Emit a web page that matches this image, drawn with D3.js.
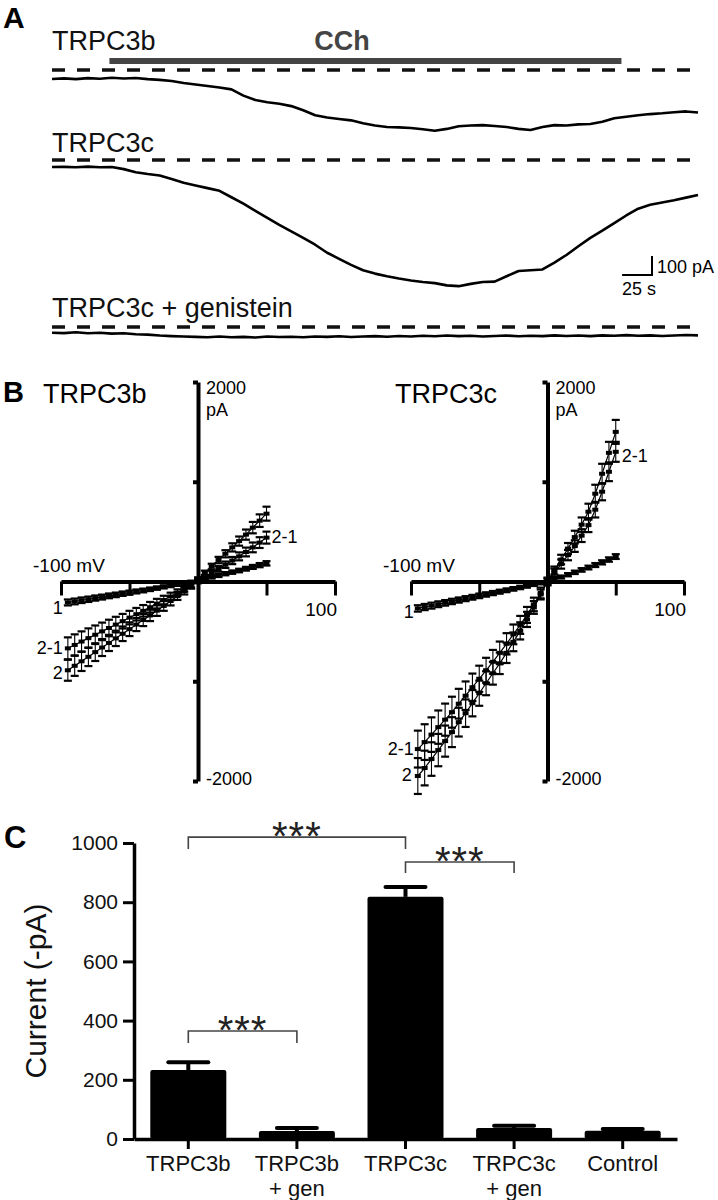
<!DOCTYPE html>
<html>
<head>
<meta charset="utf-8">
<script src="https://cdn.jsdelivr.net/npm/d3@7"></script>
<style>
  body { margin: 0; background: #fff; }
  svg { display: block; font-family: 'Liberation Sans', Arial, Helvetica, sans-serif; }
</style>
</head>
<body>
<svg id="fig" width="718" height="1200"></svg>
<script>
// =========================
// DATA
// =========================

// Panel A: whole-cell current traces (pA), sampled every 10 s
const traceTimes = [0, 10, 20, 30, 40, 50, 60, 70, 80, 90, 100, 110, 120, 130, 140, 150, 160, 170, 180, 190,
  200, 210, 220, 230, 240, 250, 260, 270, 280, 290, 300, 310, 320, 330, 340, 350, 360, 370, 380, 390,
  400, 410, 420, 430, 440, 450, 460, 470, 480, 490, 500, 510, 520, 530, 540];

const traceTRPC3b = [-47, -44, -48, -43, -46, -41, -45, -42, -48, -52, -58, -68, -76, -84, -92, -102, -135, -158, -170, -178,
  -190, -212, -238, -250, -258, -265, -280, -292, -300, -302, -305, -312, -320, -310, -296, -292, -290, -295, -300, -310,
  -316, -300, -290, -292, -286, -284, -272, -254, -246, -238, -232, -228, -222, -218, -224];

const traceTRPC3c = [-37, -36, -38, -35, -38, -37, -48, -64, -74, -82, -100, -120, -134, -148, -162, -196, -230, -268, -305, -342,
  -376, -410, -446, -488, -520, -552, -580, -598, -612, -624, -634, -642, -648, -660, -664, -652, -642, -640, -612, -584,
  -580, -576, -540, -500, -454, -410, -372, -332, -292, -256, -236, -224, -212, -198, -184];

const traceGenistein = [-30, -32, -28, -33, -30, -35, -33, -38, -40, -45, -48, -50, -52, -54, -50, -54, -52, -55, -50, -53,
  -51, -54, -50, -52, -49, -53, -50, -48, -51, -47, -50, -46, -49, -45, -48, -46, -50, -47, -45, -49,
  -46, -48, -44, -47, -45, -48, -44, -46, -43, -46, -44, -47, -45, -42, -44];

const cchOn = 48;   // s
const cchOff = 476; // s

// Panel B: I-V relations (mV, pA)
const ivVoltages = [-95, -90, -85, -80, -75, -70, -65, -60, -55, -50, -45, -40, -35, -30, -25, -20, -15, -10, -5, 0,
  5, 10, 15, 20, 25, 30, 35, 40, 45, 50];

const ivB1 = [-210, -200, -188, -178, -166, -156, -144, -134, -122, -112, -100, -90, -78, -66, -54, -42, -30, -16, -4, 10,
  28, 44, 60, 78, 94, 110, 128, 146, 164, 182];
const ivB1Err = [30, 29, 28, 27, 26, 25, 24, 23, 22, 21, 20, 19, 18, 17, 16, 15, 14, 13, 12, 12,
  13, 14, 15, 16, 17, 18, 19, 20, 21, 22];
const ivB2 = [-890, -845, -800, -755, -708, -662, -616, -570, -524, -478, -432, -386, -340, -292, -245, -196, -146, -96, -44, 20,
  85, 150, 215, 278, 342, 405, 470, 540, 610, 680];
const ivB2Err = [105, 101, 97, 93, 89, 85, 81, 77, 73, 69, 65, 61, 57, 53, 49, 44, 39, 34, 28, 22,
  24, 28, 32, 36, 41, 46, 51, 57, 63, 70];
const ivB21 = [-670, -636, -602, -568, -534, -500, -466, -432, -398, -362, -328, -294, -258, -222, -186, -150, -112, -74, -36, 2,
  44, 84, 126, 168, 210, 252, 296, 342, 390, 440];
const ivB21Err = [110, 106, 102, 98, 93, 88, 83, 78, 73, 68, 63, 58, 53, 48, 43, 38, 33, 28, 24, 20,
  22, 25, 28, 32, 36, 40, 44, 49, 54, 60];

const ivC1 = [-270, -256, -242, -228, -214, -200, -186, -172, -158, -144, -130, -116, -102, -88, -74, -60, -46, -30, -15, 0,
  22, 45, 68, 92, 116, 140, 165, 192, 220, 250];
const ivC1Err = [32, 31, 30, 29, 28, 27, 26, 25, 24, 23, 22, 21, 20, 19, 18, 17, 16, 15, 14, 13,
  14, 15, 16, 17, 18, 19, 20, 21, 22, 24];
const ivC2 = [-1950, -1870, -1780, -1690, -1600, -1510, -1410, -1320, -1220, -1120, -1020, -920, -820, -715, -605, -495, -380, -260, -130, 0,
  110, 220, 330, 445, 570, 700, 880, 1080, 1290, 1500];
const ivC2Err = [180, 174, 168, 162, 156, 150, 144, 138, 132, 126, 120, 114, 108, 102, 94, 86, 76, 64, 50, 36,
  40, 48, 56, 64, 72, 80, 90, 100, 110, 120];
const ivC21 = [-1680, -1610, -1535, -1460, -1385, -1310, -1225, -1145, -1060, -975, -890, -805, -715, -625, -530, -435, -335, -230, -115, 0,
  90, 175, 265, 355, 460, 565, 720, 900, 1100, 1300];
const ivC21Err = [185, 179, 173, 167, 161, 155, 149, 143, 137, 131, 125, 119, 113, 107, 99, 90, 80, 68, 54, 38,
  40, 46, 52, 58, 64, 70, 78, 86, 94, 100];

// Panel C: mean current (-pA)
const barGroups = ['TRPC3b', 'TRPC3b\n+ gen', 'TRPC3c', 'TRPC3c\n+ gen', 'Control'];
const barMeans = [233, 27, 818, 37, 28];
const barSems = [26, 10, 33, 8, 6];
const barTicks = [0, 200, 400, 600, 800, 1000];

// significance brackets: groups compared, bracket level and leg end (pA)
const comparisons = [
  { from: 0, to: 2, level: 1020, leg: 980 },
  { from: 2, to: 3, level: 936, leg: 899 },
  { from: 0, to: 1, level: 365, leg: 324 }
];

const svg = d3.select('#fig');

// =========================
// PANEL A
// =========================

svg.append('text')
  .attr('x', 3).attr('y', 28)
  .style('font-size', '30px').style('font-weight', 'bold')
  .text('A');

const tx = d3.scaleLinear().domain([0, 540]).range([52, 698]);

const traces = [
  { label: 'TRPC3b', values: traceTRPC3b, zero: 70, labelY: 50 },
  { label: 'TRPC3c', values: traceTRPC3c, zero: 160, labelY: 152 },
  { label: 'TRPC3c + genistein', values: traceGenistein, zero: 327, labelY: 317 }
];

traces.forEach(tr => {
  const y = d3.scaleLinear().domain([-100, 0]).range([tr.zero + 19, tr.zero]);

  svg.append('text')
    .attr('x', 52).attr('y', tr.labelY)
    .style('font-size', '27px')
    .attr('fill', '#111')
    .text(tr.label);

  svg.append('line')
    .attr('x1', tx(0)).attr('x2', tx(540))
    .attr('y1', y(0)).attr('y2', y(0))
    .attr('stroke', '#111')
    .attr('stroke-width', 3.5)
    .attr('stroke-dasharray', '13,12');

  svg.append('path')
    .datum(traceTimes)
    .attr('d', d3.line().x(d => tx(d)).y((d, i) => y(tr.values[i])))
    .attr('fill', 'none')
    .attr('stroke', '#000')
    .attr('stroke-width', 2.6)
    .attr('stroke-linejoin', 'round');
});

// CCh application bar
svg.append('line')
  .attr('x1', tx(cchOn)).attr('x2', tx(cchOff))
  .attr('y1', 61).attr('y2', 61)
  .attr('stroke', '#444')
  .attr('stroke-width', 6);

svg.append('text')
  .attr('x', 342).attr('y', 50)
  .attr('text-anchor', 'middle')
  .style('font-size', '27px').style('font-weight', 'bold')
  .attr('fill', '#444')
  .text('CCh');

// scale bar
const sbX = 652, sbY = 275;
svg.append('path')
  .attr('d', `M${sbX - (tx(25) - tx(0))},${sbY}H${sbX}V${sbY - 19}`)
  .attr('fill', 'none')
  .attr('stroke', '#000')
  .attr('stroke-width', 2);

svg.append('text')
  .attr('x', 657).attr('y', 273)
  .style('font-size', '18px')
  .text('100 pA');

svg.append('text')
  .attr('x', 622).attr('y', 295)
  .style('font-size', '18px')
  .text('25 s');

// =========================
// PANEL B
// =========================

svg.append('text')
  .attr('x', 3).attr('y', 402)
  .style('font-size', '29px').style('font-weight', 'bold')
  .text('B');

const yIV = d3.scaleLinear().domain([-2000, 2000]).range([781, 382]);

function ivPanel(cfg) {

  const x = d3.scaleLinear().domain([-100, 100]).range(cfg.range);
  const g = svg.append('g');
  const x0 = x(0);

  g.append('text')
    .attr('x', cfg.titleX).attr('y', 403)
    .style('font-size', '27px')
    .text(cfg.title);

  const xAxis = g.append('g')
    .attr('transform', `translate(0, ${yIV(0)})`)
    .call(d3.axisBottom(x).tickValues([-100, -50, 50, 100]).tickSize(14).tickSizeOuter(0).tickFormat(''));
  xAxis.select('.domain').attr('stroke', '#000').attr('stroke-width', 4);
  xAxis.selectAll('.tick line').attr('stroke', '#000').attr('stroke-width', 3);

  const yAxis = g.append('g')
    .attr('transform', `translate(${x0}, 0)`)
    .call(d3.axisLeft(yIV).tickValues([-2000, -1000, 1000, 2000]).tickSize(5).tickSizeOuter(0).tickFormat(''));
  yAxis.select('.domain').attr('stroke', '#000').attr('stroke-width', 4);
  yAxis.selectAll('.tick line').attr('stroke', '#000').attr('stroke-width', 4);

  g.append('text').attr('x', x0 + 8).attr('y', 394).style('font-size', '18px').text('2000');
  g.append('text').attr('x', x0 + 8).attr('y', 416).style('font-size', '18px').text('pA');
  g.append('text').attr('x', x0 + 8).attr('y', 785).style('font-size', '18px').text('-2000');
  g.append('text').attr('x', x(-100) - 28).attr('y', 572).style('font-size', '19px').text('-100 mV');
  g.append('text').attr('x', x(100) + 2).attr('y', 616).attr('text-anchor', 'end').style('font-size', '19px').text('100');

  cfg.curves.forEach(c => {
    const pts = ivVoltages.map((v, i) => ({ v, i: c.values[i], e: c.errors[i] }));

    g.append('path')
      .datum(pts)
      .attr('d', d3.line().x(d => x(d.v)).y(d => yIV(d.i)))
      .attr('fill', 'none')
      .attr('stroke', '#000')
      .attr('stroke-width', 1.2);

    const eb = g.selectAll(null).data(pts).enter().append('g');

    eb.append('line')
      .attr('x1', d => x(d.v)).attr('x2', d => x(d.v))
      .attr('y1', d => yIV(d.i - d.e)).attr('y2', d => yIV(d.i + d.e))
      .attr('stroke', '#000').attr('stroke-width', 1.1);

    [-1, 1].forEach(s => {
      eb.append('line')
        .attr('x1', d => x(d.v) - 4).attr('x2', d => x(d.v) + 4)
        .attr('y1', d => yIV(d.i + s * d.e)).attr('y2', d => yIV(d.i + s * d.e))
        .attr('stroke', '#000').attr('stroke-width', 2.2);
    });

    eb.append('rect')
      .attr('x', d => x(d.v) - 3).attr('y', d => yIV(d.i) - 2)
      .attr('width', 6).attr('height', 4)
      .attr('fill', '#000');
  });

  cfg.labels.forEach(l => {
    g.append('text')
      .attr('x', x(l.v) + l.dx).attr('y', yIV(l.i) + l.dy)
      .attr('text-anchor', l.anchor)
      .style('font-size', '18px')
      .text(l.text);
  });
}

ivPanel({
  title: 'TRPC3b',
  titleX: 43,
  range: [61, 335],
  curves: [
    { values: ivB1, errors: ivB1Err },
    { values: ivB21, errors: ivB21Err },
    { values: ivB2, errors: ivB2Err }
  ],
  labels: [
    { text: '1', v: -95, i: ivB1[0], dx: -5, dy: 12, anchor: 'end' },
    { text: '2-1', v: -95, i: ivB21[0], dx: -5, dy: 6, anchor: 'end' },
    { text: '2', v: -95, i: ivB2[0], dx: -5, dy: 9, anchor: 'end' },
    { text: '2-1', v: 50, i: ivB21[29], dx: 5, dy: 5, anchor: 'start' }
  ]
});

ivPanel({
  title: 'TRPC3c',
  titleX: 395,
  range: [411, 684],
  curves: [
    { values: ivC1, errors: ivC1Err },
    { values: ivC21, errors: ivC21Err },
    { values: ivC2, errors: ivC2Err }
  ],
  labels: [
    { text: '1', v: -95, i: ivC1[0], dx: -4, dy: 10, anchor: 'end' },
    { text: '2-1', v: -95, i: ivC21[0], dx: -4, dy: 6, anchor: 'end' },
    { text: '2', v: -95, i: ivC2[0], dx: -6, dy: 5, anchor: 'end' },
    { text: '2-1', v: 50, i: ivC21[29], dx: 6, dy: 10, anchor: 'start' }
  ]
});

// =========================
// PANEL C
// =========================

svg.append('text')
  .attr('x', 4).attr('y', 848)
  .style('font-size', '31px').style('font-weight', 'bold')
  .text('C');

const xBar = d3.scaleBand()
  .domain(barGroups)
  .range([134, 677])
  .paddingInner(0.3)
  .paddingOuter(0.15);

const yBar = d3.scaleLinear().domain([0, 1000]).range([1139, 843]);

const yAx = svg.append('g')
  .attr('transform', 'translate(134, 0)')
  .call(d3.axisLeft(yBar).tickValues(barTicks).tickFormat(d3.format('d')).tickSize(11).tickPadding(5).tickSizeOuter(0));
yAx.select('.domain').attr('stroke', '#000').attr('stroke-width', 3.5);
yAx.selectAll('.tick line').attr('stroke', '#000').attr('stroke-width', 3);
yAx.selectAll('.tick text')
  .attr('fill', '#111')
  .style('font-size', '21px')
  .style('font-family', "'Liberation Sans', Arial, sans-serif");

const xAx = svg.append('g')
  .attr('transform', `translate(0, ${yBar(0)})`)
  .call(d3.axisBottom(xBar).tickSize(10).tickSizeOuter(0).tickFormat(''));
xAx.select('.domain').attr('stroke', '#000').attr('stroke-width', 3.5);
xAx.selectAll('.tick line').attr('stroke', '#000').attr('stroke-width', 3);

barGroups.forEach(gName => {
  const lines = gName.split('\n');
  const cx = xBar(gName) + xBar.bandwidth() / 2;
  lines.forEach((ln, k) => {
    svg.append('text')
      .attr('x', cx)
      .attr('y', 1171 + k * 25)
      .attr('text-anchor', 'middle')
      .attr('fill', '#111')
      .style('font-size', '22px')
      .text(ln);
  });
});

svg.append('text')
  .attr('transform', 'rotate(-90)')
  .attr('x', -yBar(500))
  .attr('y', 46)
  .attr('text-anchor', 'middle')
  .attr('fill', '#111')
  .style('font-size', '30px')
  .text('Current (-pA)');

// error bars behind bars
barGroups.forEach((gName, i) => {
  const cx = xBar(gName) + xBar.bandwidth() / 2;
  svg.append('line')
    .attr('x1', cx).attr('x2', cx)
    .attr('y1', yBar(barMeans[i])).attr('y2', yBar(barMeans[i] + barSems[i]))
    .attr('stroke', '#000').attr('stroke-width', 4);
  svg.append('line')
    .attr('x1', cx - 20).attr('x2', cx + 20)
    .attr('y1', yBar(barMeans[i] + barSems[i])).attr('y2', yBar(barMeans[i] + barSems[i]))
    .attr('stroke', '#000').attr('stroke-width', 4).attr('stroke-linecap', 'round');
});

svg.selectAll('.bar')
  .data(barGroups)
  .enter()
  .append('rect')
  .attr('class', 'bar')
  .attr('x', d => xBar(d))
  .attr('y', (d, i) => yBar(barMeans[i]))
  .attr('width', xBar.bandwidth())
  .attr('height', (d, i) => yBar(0) - yBar(barMeans[i]))
  .attr('rx', 2)
  .attr('fill', '#000');

comparisons.forEach(c => {
  const xa = xBar(barGroups[c.from]) + xBar.bandwidth() / 2;
  const xb = xBar(barGroups[c.to]) + xBar.bandwidth() / 2;
  svg.append('path')
    .attr('d', `M${xa},${yBar(c.leg)}V${yBar(c.level)}H${xb}V${yBar(c.leg)}`)
    .attr('fill', 'none')
    .attr('stroke', '#444')
    .attr('stroke-width', 1.6);
  svg.append('text')
    .attr('x', (xa + xb) / 2)
    .attr('y', yBar(c.level) + 13)
    .attr('text-anchor', 'middle')
    .attr('fill', '#222')
    .style('font-size', '40px')
    .style('letter-spacing', '1px')
    .text('***');
});
</script>
</body>
</html>
